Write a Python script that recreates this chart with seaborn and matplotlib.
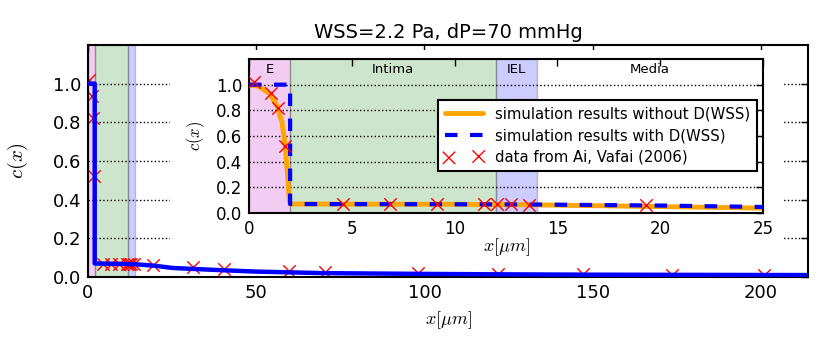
import numpy as np
import pandas as pd
import matplotlib
matplotlib.use("Agg")
import matplotlib.pyplot as plt
import matplotlib.patches as mpatches
import seaborn as sns

# ---- data ----
blue_x = [0, 2.0, 2.0, 5, 10, 14, 20, 25, 31, 40, 50, 60, 70, 85, 100, 120, 150, 180, 214]
blue_y = [1.0, 1.0, 0.07, 0.069, 0.068, 0.066, 0.058, 0.047, 0.042, 0.035, 0.028, 0.024, 0.02, 0.018, 0.016, 0.014, 0.012, 0.011, 0.01]

orange_x = [0, 0.5, 1.0, 1.35, 1.6, 1.75, 1.86, 1.96, 2.0, 5, 10, 14, 20, 25]
orange_y = [1.0, 0.985, 0.93, 0.84, 0.71, 0.54, 0.32, 0.1, 0.07, 0.069, 0.068, 0.063, 0.05, 0.038]

data_x = [0.25, 1.05, 1.4, 1.75, 4.55, 6.85, 9.15, 11.45, 12.05, 12.75, 13.6, 19.3,
          31.3, 40.5, 59.8, 70.3, 98.0, 121.8, 147.2, 173.7, 200.9]
data_y = [1.02, 0.935, 0.82, 0.52, 0.068, 0.068, 0.068, 0.068, 0.068, 0.067, 0.066, 0.06,
          0.05, 0.042, 0.03, 0.025, 0.02, 0.016, 0.013, 0.011, 0.01]

layer_names = ["E", "Intima", "IEL", "Media"]
layer_start = [0, 2, 12, 14]
layer_end = [2, 12, 14, 214]
layer_colors = ["m", "g", "b", None]
label_x = [1, 7, 13, 19.5]

main_xticks = [0, 50, 100, 150, 200]
inset_xticks = [0, 5, 10, 15, 20, 25]
yticks = [0.0, 0.2, 0.4, 0.6, 0.8, 1.0]

legend_labels = ["simulation results without D(WSS)",
                 "simulation results with D(WSS)",
                 "data from Ai, Vafai (2006)"]
title = "WSS=2.2 Pa, dP=70 mmHg"

df_blue = pd.DataFrame({"x": blue_x, "y": blue_y})
df_orange = pd.DataFrame({"x": orange_x, "y": orange_y})
df_data = pd.DataFrame({"x": data_x, "y": data_y})

sns.set_style("white")
plt.rcParams["font.family"] = ["DejaVu Sans"]
plt.rcParams["mathtext.fontset"] = "cm"
plt.rcParams["text.color"] = "black"
plt.rcParams["axes.labelcolor"] = "black"
plt.rcParams["xtick.color"] = "black"
plt.rcParams["ytick.color"] = "black"
plt.rcParams["xtick.direction"] = "in"
plt.rcParams["ytick.direction"] = "in"
plt.rcParams["xtick.top"] = True
plt.rcParams["ytick.right"] = True
plt.rcParams["patch.edgecolor"] = "black"

fig = plt.figure(figsize=(8.3, 3.46), dpi=100)
ax = fig.add_axes([0.106, 0.1994, 0.8675, 0.6706])


def style_axes(a, tick_size):
    for s in a.spines.values():
        s.set_linewidth(1.5)
        s.set_color("black")
        s.set_visible(True)
    a.tick_params(axis="both", which="major", direction="in", length=5, width=1,
                  top=True, right=True, labelsize=tick_size, colors="black", pad=5)
    a.yaxis.grid(True, linestyle=":", color="black", linewidth=1)
    a.xaxis.grid(False)


# ---- main axes ----
for s0, s1, c in zip(layer_start, layer_end, layer_colors):
    if c is not None:
        ax.axvspan(s0, s1, facecolor=c, edgecolor="black", alpha=0.2, lw=1, zorder=0)
sns.scatterplot(data=df_data, x="x", y="y", ax=ax, marker="x", color="red", s=80,
                linewidth=1, zorder=2, legend=False)
sns.lineplot(data=df_blue, x="x", y="y", ax=ax, color="blue", lw=3.2,
             estimator=None, sort=False, zorder=3, legend=False)
ax.set_xlim(0, 214)
ax.set_ylim(0, 1.2)
ax.set_xticks(main_xticks)
ax.set_yticks(yticks)
ax.set_yticklabels([f"{v:.1f}" for v in yticks])
style_axes(ax, 13)
ax.set_xlabel(r"$x[\mu m]$", fontsize=13, labelpad=5)
ax.set_ylabel(r"$c(x)$", fontsize=15, labelpad=16)
ax.set_title(title, fontsize=14, pad=5)

# white backing behind inset and its labels
fig.patches.append(mpatches.Rectangle((0.205, 0.265), 0.74, 0.59, transform=fig.transFigure,
                                      facecolor="white", edgecolor="none", zorder=5))

ins = fig.add_axes([0.300, 0.3844, 0.6193, 0.4451])
ins.set_zorder(10)
for s0, s1, c in zip(layer_start, layer_end, layer_colors):
    if c is not None:
        ins.axvspan(s0, s1, facecolor=c, edgecolor="black", alpha=0.2, lw=1, zorder=0)
sns.lineplot(data=df_orange, x="x", y="y", ax=ins, color="orange", lw=3.5,
             estimator=None, sort=False, zorder=2, label=legend_labels[0])
sns.lineplot(data=df_blue, x="x", y="y", ax=ins, color="blue", lw=3,
             estimator=None, sort=False, zorder=3, label=legend_labels[1])
ins.lines[-1].set_linestyle((0, (3, 3)))
sns.scatterplot(data=df_data, x="x", y="y", ax=ins, marker="x", color="red", s=80,
                linewidth=1, zorder=4, label=legend_labels[2])
for name, lx in zip(layer_names, label_x):
    ins.text(lx, 1.12, name, ha="center", va="center", fontsize=9.5)
ins.set_xlim(0, 25)
ins.set_ylim(0, 1.2)
ins.set_xticks(inset_xticks)
ins.set_yticks(yticks)
ins.set_yticklabels([f"{v:.1f}" for v in yticks])
style_axes(ins, 12)
ins.set_xlabel(r"$x[\mu m]$", fontsize=13, labelpad=-1)
ins.set_ylabel(r"$c(x)$", fontsize=12, labelpad=6)
leg = ins.legend(loc="upper right", bbox_to_anchor=(0.988, 0.736), borderaxespad=0,
                 fontsize=10.7, frameon=True, fancybox=False, framealpha=1,
                 edgecolor="black", scatterpoints=2, borderpad=0.45,
                 labelspacing=0.45, handlelength=2.6)
leg.get_frame().set_linewidth(1.5)

fig.savefig("out.png", dpi=100)
